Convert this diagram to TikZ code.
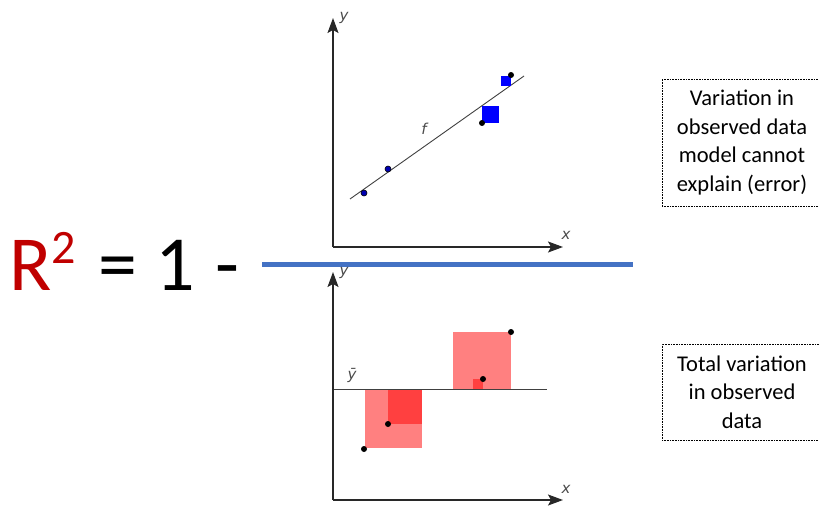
\documentclass[tikz,border=0pt]{standalone}
\usepackage{fontspec}
\setmainfont{Carlito}
\newfontfamily\axisfont{DejaVu Sans}
\usetikzlibrary{arrows.meta,positioning}
\definecolor{rsqred}{RGB}{192,0,0}
\definecolor{barblue}{RGB}{68,114,196}
\definecolor{sqlight}{RGB}{255,128,128}
\definecolor{sqdark}{RGB}{255,64,64}
\definecolor{fitblue}{RGB}{0,0,255}
\definecolor{axisgray}{RGB}{40,40,40}

\begin{document}
\begin{tikzpicture}[
        x=1pt, y=-1pt,
        axis/.style={-{Stealth[length=15pt,width=11pt,inset=3pt]}, line width=1.3pt, draw=axisgray},
        dot/.style={circle, fill=black, inner sep=0pt, minimum size=6pt},
        bluedot/.style={dot, fill=blue!70!black, draw=black, line width=0.6pt},
        note/.style={draw, densely dotted, line width=0.6pt, minimum width=160pt, align=center, font=\fontsize{22.5}{28.7}\selectfont},
        lbl/.style={font=\axisfont\itshape\fontsize{15}{15}\selectfont, text=black!70, inner sep=0pt}
    ]
        \useasboundingbox (0,0) rectangle (819,506);

        % R^2 = 1 - (fraction bar)
        \node[anchor=base west, inner sep=0pt, font=\fontsize{78}{80}\selectfont] (rsq) at (9,290)
            {{\color{rsqred}R\raisebox{27pt}{\fontsize{48}{48}\selectfont 2}}\hspace{5pt} = \hspace{1pt}1\hspace{2pt} -};
        \coordinate (barl) at (262,264.5);
        \coordinate (barr) at (633,264.5);
        \draw[barblue, line width=5pt] (barl) -- (barr);

        % top plot: residuals of the fit
        \coordinate (o1) at (333,247);
        \coordinate (ytop1) at (333,18);
        \coordinate (xend1) at (563,247);
        \draw[axis] (o1) -- (ytop1);
        \draw[axis] (o1) -- (xend1);
        \node[lbl] (ylab1) at (344,18) {y};
        \node[lbl] (xlab1) at (566,235) {x};
        \coordinate (fa) at (350,199);
        \coordinate (fb) at (524,76);
        \draw[line width=0.9pt, black!75] (fa) -- (fb);
        \node[lbl] (flab) at (424,129) {f};
        \fill[fitblue] (482,106) rectangle (499,123);
        \fill[fitblue] (501,76) rectangle (511,86);
        \node[bluedot] (p1) at (364,193) {};
        \node[bluedot] (p2) at (388,169) {};
        \node[dot] (p3) at (482,123) {};
        \node[dot] (p4) at (511,75) {};

        % bottom plot: deviations from the mean
        \coordinate (o2) at (333,500);
        \coordinate (ytop2) at (333,272);
        \coordinate (xend2) at (563,500);
        \fill[sqlight] (365,389) rectangle (422,448);
        \fill[sqdark] (388,389) rectangle (422,424);
        \fill[sqlight] (453,332) rectangle (511,389);
        \fill[sqdark] (473,379) rectangle (483,389);
        \coordinate (ma) at (333,389);
        \coordinate (mb) at (547,389);
        \draw[line width=1pt, black!75] (ma) -- (mb);
        \node[lbl] (ybar) at (352,375) {ȳ};
        \draw[axis] (o2) -- (ytop2);
        \draw[axis] (o2) -- (xend2);
        \node[lbl] (ylab2) at (344,273) {y};
        \node[lbl] (xlab2) at (566,489) {x};
        \node[dot] (q1) at (364,449) {};
        \node[dot] (q2) at (388,424) {};
        \node[dot] (q3) at (511,332) {};
        \node[dot] (q4) at (483,379) {};

        % notes on the right
        \node[note, minimum height=127pt] (errnote) at (742,142.5)
            {Variation in\\observed data\\model cannot\\explain (error)};
        \node[note, minimum height=96pt] (totnote) at (742,392)
            {Total variation\\in observed\\data};

    \end{tikzpicture}
\end{document}
